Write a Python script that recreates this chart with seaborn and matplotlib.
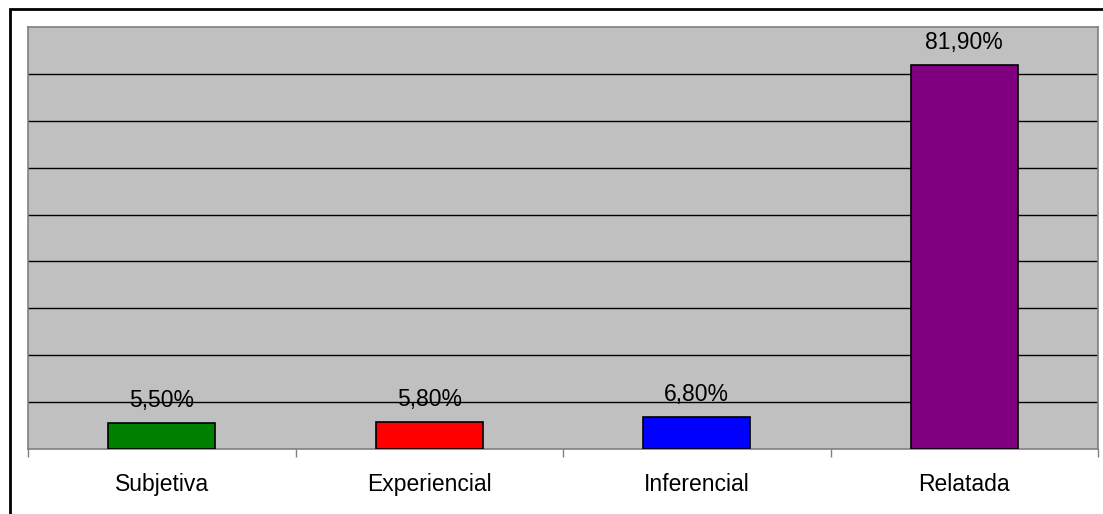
import matplotlib
matplotlib.use("Agg")
import matplotlib.pyplot as plt
import seaborn as sns
import pandas as pd
from matplotlib.patches import Rectangle

categories = ["Subjetiva", "Experiencial", "Inferencial", "Relatada"]
values = [5.5, 5.8, 6.8, 81.9]
colors = ["#008000", "#FF0000", "#0000FF", "#800080"]

sns.set_style("white")
plt.rcParams['font.family'] = ['Liberation Sans', 'DejaVu Sans']
plt.rcParams['text.color'] = 'black'
plt.rcParams['xtick.color'] = 'black'
plt.rcParams['xtick.labelcolor'] = 'black'

df = pd.DataFrame({"cat": categories, "val": values})

W, H = 1103, 514
fig = plt.figure(figsize=(W / 100, H / 100), dpi=100)
ax = fig.add_axes([28 / W, (H - 449) / H, (1098 - 28) / W, (449 - 27) / H])

sns.barplot(data=df, x="cat", y="val", hue="cat", palette=colors, width=0.4,
            saturation=1, edgecolor="black", linewidth=1.2, legend=False,
            ax=ax, zorder=3)

ax.set_facecolor("#C0C0C0")
ax.set_ylim(0, 90)
ax.set_xlim(-0.5, 3.5)
ax.set_yticks(range(10, 90, 10))
ax.yaxis.grid(True, color="black", linewidth=1)
ax.set_axisbelow(True)
ax.tick_params(axis="y", left=False, labelleft=False)
ax.set_xticks(range(4))
ax.set_xticklabels(categories, fontsize=16.5, color="black")
ax.tick_params(axis="x", which="major", bottom=True, length=0, pad=17)
ax.set_xticks([-0.5, 0.5, 1.5, 2.5, 3.5], minor=True)
ax.tick_params(axis="x", which="minor", bottom=True, length=6, width=1,
               color="#808080")
ax.set_xlabel("")
ax.set_ylabel("")
for s in ax.spines.values():
    s.set_color("#808080")
    s.set_linewidth(1.2)

for i, v in enumerate(values):
    ax.annotate(f"{v:.2f}%".replace(".", ","), (i, v), xytext=(0, 11.5),
                textcoords="offset points", ha="center", va="baseline",
                fontsize=16.5, color="black", zorder=5)

fig.patches.append(Rectangle((10 / W, -0.1), 1.2, (H - 9) / H + 0.1,
                             transform=fig.transFigure, fill=False,
                             edgecolor="black", linewidth=2))

fig.savefig("out.png", dpi=100)
